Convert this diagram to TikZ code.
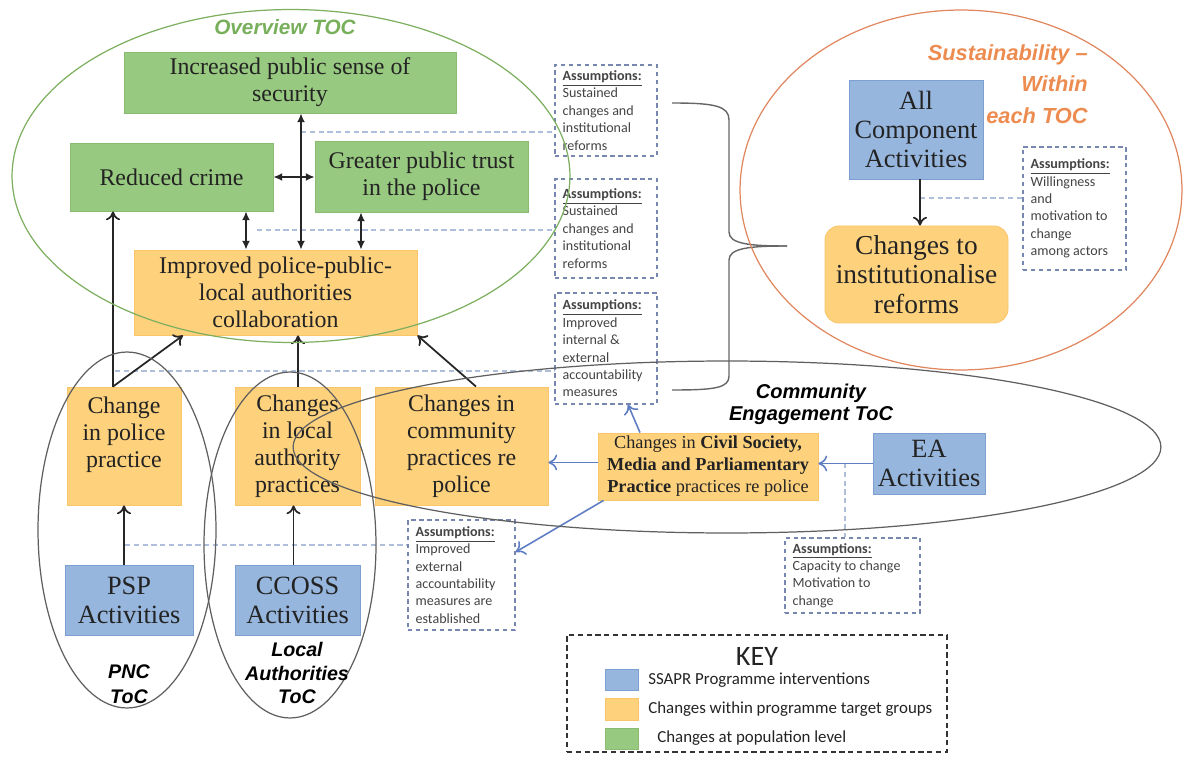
\documentclass[tikz,border=0pt]{standalone}
\usepackage{fontspec}
\setmainfont{Liberation Serif}
\newfontfamily\calib{Carlito}
\newfontfamily\arialf{Liberation Sans}
\usetikzlibrary{arrows.meta}
\definecolor{gfill}{RGB}{152,201,128}
\definecolor{gline}{RGB}{138,188,112}
\definecolor{ofill}{RGB}{254,210,125}
\definecolor{oline}{RGB}{248,198,105}
\definecolor{bfill}{RGB}{150,182,222}
\definecolor{bline}{RGB}{125,160,210}
\definecolor{txt}{RGB}{35,35,35}
\definecolor{asml}{RGB}{120,135,175}
\definecolor{lightd}{RGB}{175,190,218}
\definecolor{ellg}{RGB}{125,175,95}
\definecolor{ello}{RGB}{225,135,95}
\definecolor{ellk}{RGB}{95,95,95}
\definecolor{oranget}{RGB}{236,140,80}
\definecolor{greent}{RGB}{120,175,90}
\definecolor{barrow}{RGB}{95,125,195}
\newdimen\px \px=0.02cm
\newcommand\bxf{\fontsize{13.6}{15.4}\selectfont}
\newcommand\bxl{\fontsize{15}{16.6}\selectfont}
\newcommand\civf{\fontsize{10.4}{12.5}\selectfont}
\newcommand\asf{\calib\fontsize{8}{9.9}\selectfont}
\newcommand\lblf{\arialf\bfseries\itshape}
\begin{document}
\begin{tikzpicture}[x=0.02cm, y=-0.02cm,
  place/.style n args={4}{minimum width={(#3-#1)*\px}, minimum height={(#4-#2)*\px}, at={({(#1+#3)/2},{(#2+#4)/2})}},
  box/.style={draw, line width=0.5pt, inner sep=0pt, align=center, text=txt, font=\bxf},
  gbox/.style={box, fill=gfill, draw=gline},
  obox/.style={box, fill=ofill, draw=oline},
  bbox/.style={box, fill=bfill, draw=bline},
  asm/.style={draw=asml, dash pattern=on 2.5pt off 2pt, line width=0.8pt, inner sep=0pt},
  asmt/.style={anchor=west, inner sep=0pt, align=left, font=\asf, text=txt!85},
  arr/.style={draw=black!85, line width=1pt, -{To[length=5pt,width=8pt]}},
  darr/.style={draw=black!85, line width=0.8pt, {Latex[length=5pt,width=4.5pt]}-{Latex[length=5pt,width=4.5pt]}},
  barr/.style={draw=barrow, line width=0.9pt, -{To[length=5pt,width=9pt]}},
  ldash/.style={draw=lightd, dash pattern=on 3pt off 2pt, line width=0.7pt},
  brace/.style={draw=black!60, line width=0.8pt},
  ellip/.style={line width=0.7pt},
  keyt/.style={anchor=west, font=\calib\fontsize{9.6}{11}\selectfont, text=txt, inner sep=0pt},
]
\useasboundingbox (0,0) rectangle (1187,760);

% helper coordinates
\coordinate (v301) at (301,0);
\coordinate (v246) at (246,0);
\coordinate (v361) at (361,0);
\coordinate (pp) at (113,0);
\coordinate (c183) at (183,0);
\coordinate (c476) at (476,0);
\coordinate (d1) at (301,132);
\coordinate (d2) at (257,230);
\coordinate (d3) at (115,371);
\coordinate (d5) at (125,545);
\coordinate (d4) at (920,198);
\coordinate (d6) at (845,463);

% assumption boxes
\node[asm, place={555}{65}{657}{156}] (a1) {};
\node[asmt] (a1t) at ([xshift=8\px]a1.west) {\textbf{\underline{Assumptions:}}\\Sustained\\changes and\\institutional\\reforms};
\node[asm, place={555}{179}{657}{278}] (a2) {};
\node[asmt] (a2t) at ([xshift=8\px]a2.west) {\textbf{\underline{Assumptions:}}\\Sustained\\changes and\\institutional\\reforms};
\node[asm, place={555}{293}{657}{404}] (a3) {};
\node[asmt] (a3t) at ([xshift=8\px]a3.west) {\textbf{\underline{Assumptions:}}\\Improved\\internal \&\\external\\accountability\\measures};
\node[asm, place={1023}{147}{1126}{270}] (a4) {};
\node[asmt] (a4t) at ([xshift=8\px]a4.west) {\textbf{\underline{Assumptions:}}\\Willingness\\and\\motivation to\\change\\among actors};
\node[asm, place={408}{520}{515}{630}] (a5) {};
\node[asmt] (a5t) at ([xshift=8\px]a5.west) {\textbf{\underline{Assumptions:}}\\Improved\\external\\accountability\\measures are\\established};
\node[asm, place={785}{538}{920}{613}] (a6) {};
\node[asmt] (a6t) at ([xshift=8\px]a6.west) {\textbf{\underline{Assumptions:}}\\Capacity to change\\Motivation to\\change};

% light dashed links
\draw[ldash] (d1) -- (d1 -| a1.west);
\draw[ldash] (d2) -- (d2 -| a2.west);
\draw[ldash] (d3) -- (d3 -| a3.west);
\draw[ldash] (d5) -- (d5 -| a5.west);
\draw[ldash] (d4) -- (d4 -| a4.west);

% boxes
\node[gbox, place={124}{52}{456}{113}] (sec) {Increased public sense of\\security};
\node[gbox, place={70}{143}{273}{211}] (crime) {Reduced crime};
\node[gbox, place={315}{141}{528}{212}] (trust) {Greater public trust\\in the police};
\node[obox, place={134}{250}{417}{335}] (collab) {Improved police-public-\\local authorities\\collaboration};
\node[obox, place={67}{387}{181}{505}] (police) {Change\\in police\\practice\\\mbox{}};
\node[obox, place={235}{387}{360}{505}] (lap) {Changes\\in local\\authority\\practices};
\node[obox, place={375}{387}{548}{505}] (comm) {Changes in\\community\\practices re\\police};
\node[obox, place={598}{433}{818}{500}, font=\civf] (civil) {Changes in \textbf{Civil Society,}\\\textbf{Media and Parliamentary}\\\textbf{Practice} practices re police};
\node[bbox, place={873}{433}{985}{494}, font=\bxl] (ea) {EA\\Activities};
\node[bbox, place={65}{565}{193}{635}, font=\bxl] (psp) {PSP\\Activities};
\node[bbox, place={235}{565}{360}{635}, font=\bxl] (ccoss) {CCOSS\\Activities};
\node[bbox, place={849}{80}{983}{179}, font=\bxl] (allc) {All\\Component\\Activities};
\node[obox, rounded corners=8pt, place={825}{226}{1008}{323}, font=\fontsize{15.6}{16.6}\selectfont] (inst) {Changes to\\institutionalise\\reforms};

\draw[ldash] (d6) -- (d6 |- a6.north);

% black arrows
\draw[arr] (police.north -| pp) -- (crime.south -| pp);
\draw[arr] (police.north -| pp) -- (collab.south -| c183);
\draw[arr] (lap.north -| v301) ++(-3,0) coordinate (lt) -- (collab.south -| lt);
\draw[arr] (comm.north -| c476) -- (collab.south east);
\draw[arr] (psp.north -| police.south) -- (police.south);
\draw[arr] (ccoss.north) ++(-4,0) coordinate (ct) -- (lap.south -| ct);
\draw[arr] (allc.south) ++(4,0) coordinate (at) -- (inst.north -| at);
\draw[darr] (sec.south -| v301) -- (collab.north -| v301);
\draw[darr] (crime.east) -- (crime.east -| trust.west);
\draw[darr] (crime.south -| v246) -- (collab.north -| v246);
\draw[darr] (trust.south -| v361) -- (collab.north -| v361);

% blue arrows
\draw[barr] (ea.west) -- (ea.west -| civil.east);
\draw[barr] (civil.west) ++(0,-4) coordinate (cw) -- (cw -| comm.east);
\coordinate (cn) at (640,0);
\coordinate (an) at (628,0);
\draw[barr] (civil.north -| cn) -- (a3.south -| an);
\draw[barr] ([xshift=6\px]civil.south west) -- ([yshift=23\px]a5.east);

% brace
\coordinate (b1) at (672,103);
\coordinate (b2) at (787,246);
\coordinate (b3) at (672,390);
\draw[brace] (b1) .. controls (715,103) and (729,106) .. (729,120) -- (729,232) .. controls (729,244) and (750,246) .. (b2);
\draw[brace] (b2) .. controls (750,246) and (729,248) .. (729,260) -- (729,376) .. controls (729,388) and (715,390) .. (b3);

% ellipses
\draw[ellip, draw=ellg] (291,176) ellipse [x radius=5.58cm, y radius=3.33cm];
\draw[ellip, draw=ello] (961,190) ellipse [x radius=4.42cm, y radius=3.6cm];
\draw[ellip, draw=ellk] (727,447) ellipse [x radius=8.68cm, y radius=1.72cm];
\draw[ellip, draw=ellk] (127,530) ellipse [x radius=1.78cm, y radius=3.56cm];
\draw[ellip, draw=ellk] (290,545) ellipse [x radius=1.72cm, y radius=3.46cm];

% labels
\node[font=\lblf\fontsize{11.8}{13}\selectfont, text=greent] (ovl) at (285,27) {Overview TOC};
\node[font=\lblf\fontsize{12.4}{18}\selectfont, text=oranget, align=right, anchor=east, inner sep=0pt] (sus) at (1088,84) {Sustainability –\\Within\\each TOC};
\node[font=\lblf\fontsize{11.4}{12.6}\selectfont, align=center] (cel) at (811,404) {Community\\Engagement ToC};
\node[font=\lblf\fontsize{11.2}{14}\selectfont, align=center] (pnc) at (129,684) {PNC\\ToC};
\node[font=\lblf\fontsize{11.2}{13.2}\selectfont, align=center] (lal) at (297,673) {Local\\Authorities\\ToC};

% key
\node[draw=black!80, dash pattern=on 3pt off 2pt, line width=1pt, inner sep=0pt, place={567}{635}{947}{752}] (key) {};
\node[font=\calib\fontsize{16}{16}\selectfont, text=txt, inner sep=0pt] (keyh) at (757,656) {KEY};
\node[bbox, place={605}{669}{638}{690}] (k1) {};
\node[obox, place={605}{698}{638}{720}] (k2) {};
\node[gbox, place={605}{728}{638}{749}] (k3) {};
\node[keyt] (k1t) at (648,680) {SSAPR Programme interventions};
\node[keyt] (k2t) at (648,709) {Changes within programme target groups};
\node[keyt] (k3t) at (657,738) {Changes at population level};
\end{tikzpicture}
\end{document}
